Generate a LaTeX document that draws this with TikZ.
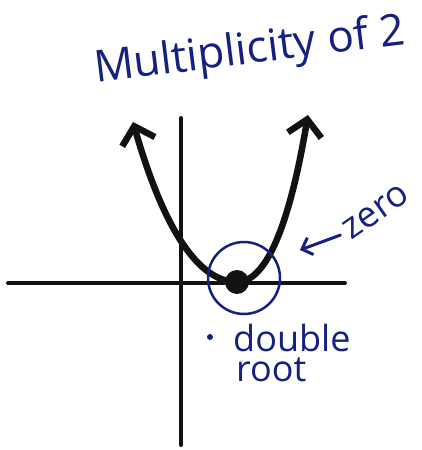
\documentclass[tikz,border=0pt]{standalone}
\usepackage{fontspec}
\setmainfont{Open Sans}
\usetikzlibrary{positioning,arrows.meta}
\definecolor{inkblue}{RGB}{22,32,128}
\definecolor{inkblack}{RGB}{18,18,18}

\begin{document}
\begin{tikzpicture}[x=1pt,y=1pt,
  hand/.style={inkblue, font=\fontsize{36}{40}\selectfont, inner sep=0pt},
  axisline/.style={inkblack, line width=4pt, line cap=round}]
\useasboundingbox (0,0) rectangle (421,450);
\coordinate (xl) at (8,167);
\coordinate (xr) at (345,167);
\coordinate (yt) at (181,332);
\coordinate (yb) at (181,5);
\draw[axisline] (xl) -- (xr);
\draw[axisline] (yt) -- (yb);
\node[circle, fill=inkblack, minimum size=24pt, inner sep=0pt] (vertex) at (237,168) {};
\coordinate (lt) at (133,328);
\coordinate (rt) at (308,335);
\draw[inkblack, line width=6.5pt, line cap=round,
  {Straight Barb[length=16pt,width=34pt]}-{Straight Barb[length=16pt,width=34pt]}]
  (lt) .. controls (158,240) and (192,168) .. (vertex.center)
  .. controls (270,168) and (292,240) .. (rt);
\node[draw=inkblue, circle, line width=2.5pt, minimum size=72pt, inner sep=0pt] (zerocirc) at (244,172) {};
\node[hand, font=\fontsize{44}{48}\selectfont, rotate=7] (title) at (250,398) {Multiplicity of 2};
\node[hand, rotate=35] (zero) at (376,238) {zero};
\coordinate (zerotip) at (300,200);
\draw[inkblue, line width=3pt, line cap=round, -{Straight Barb[length=9pt,width=18pt]}, shorten <=6pt] (zero.west) -- (zerotip);
\node[hand, anchor=west] (double) at (233,112) {double};
\node[hand, below=6pt of double.south west, anchor=north west, xshift=3pt] (rootlbl) {root};
\node[circle, fill=inkblue, inner sep=0pt, minimum size=6pt] (bullet) at (210,113) {};
\end{tikzpicture}
\end{document}
